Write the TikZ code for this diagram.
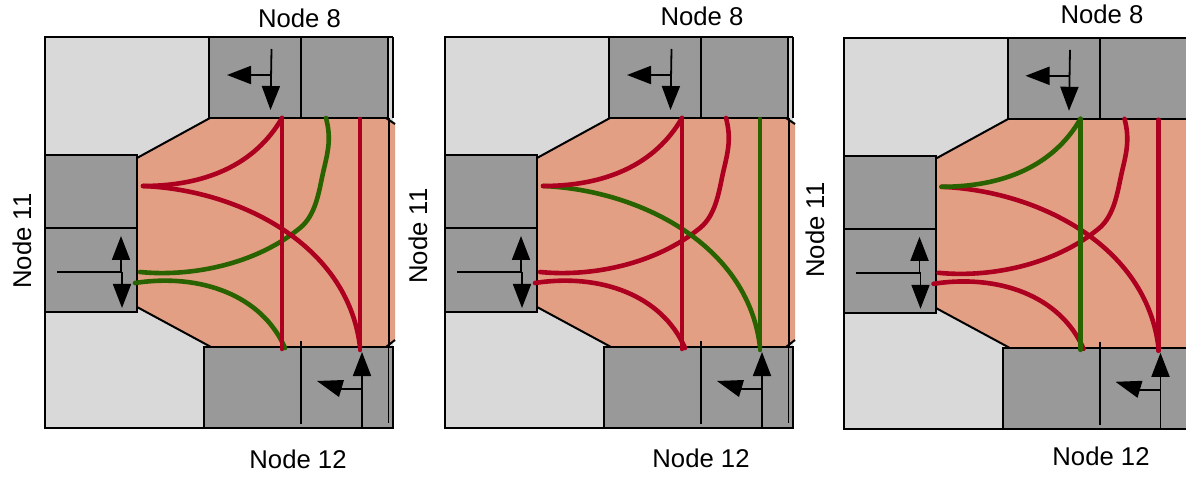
\documentclass[tikz,border=0pt]{standalone}
\usepackage{fontspec}
\setmainfont{Liberation Sans}
\usetikzlibrary{arrows.meta}
\definecolor{salmon}{HTML}{E39F84}
\definecolor{cellgray}{HTML}{999999}
\definecolor{yardgray}{HTML}{D9D9D9}
\definecolor{lanered}{HTML}{AD0020}
\definecolor{lanegreen}{HTML}{286300}
\tikzset{
  edge/.style={draw=black,line width=2pt,line join=miter},
  cell/.style={edge,fill=cellgray},
  lane/.style={line width=4.6pt,line cap=round},
  flow/.style={line width=1.8pt,-{Triangle[length=24pt,width=18pt]}},
  stem/.style={line width=1.8pt},
  lbl/.style={font=\fontsize{25.7}{30}\selectfont,inner sep=0pt},
}
% #1 x shift, #2 y shift, #3 colour of curve A, #4 B, #5 V1, #6 V2, #7 C, #8 D, #9 show right edge lines (1/0)
\newcommand{\junctionpanel}[9]{%
\begin{scope}[shift={(#1,#2)}]
  \path[fill=yardgray] (45,37) rectangle (393,428);
  \draw[edge] (393,37) -- (45,37) -- (45,428) -- (393,428);
  \fill[salmon] (137,158) -- (210,118) -- (386,118) -- (395,124) -- (395,340) -- (386,347) -- (211,347) -- (137,307) -- cycle;
  \draw[edge] (137,158) -- (210,118);
  \draw[edge] (137,307) -- (211,347);
  \draw[cell] (209,37) rectangle (301,118);
  \draw[cell] (301,37) rectangle (388,118);
  \draw[cell] (45,155) rectangle (137,228);
  \draw[cell] (45,228) rectangle (137,312);
  \draw[cell] (204,347) rectangle (393,428);
  \ifnum#9=1
    \draw[edge] (393,37) -- (393,118);
    \draw[edge] (389,118) -- (389,347);
    \draw[edge] (386,118) -- (395,124);
    \draw[edge] (386,347) -- (395,340);
    \draw[stem] (388.5,347) -- (388.5,423);
  \fi
  \draw[edge] (301,341) -- (301,424);
  % lanes
  \draw[lane,#7] (140,272) .. controls (190,277) and (255,265) .. (300,228) .. controls (316,215) and (319,191) .. (323,173) .. controls (327,155) and (332,140) .. (326,118);
  \draw[lane,#8] (135,283) .. controls (200,273) and (262,295) .. (285,348);
  \draw[lane,#4] (143,186) .. controls (240,190) and (348,245) .. (360,347);
  \draw[lane,#6] (360,119) -- (360,350);
  \draw[lane,#5] (282,118) -- (282,349);
  \draw[lane,#3] (143,186) .. controls (205,186) and (255,165) .. (282,118);
  % arrows
  \draw[flow] (271.5,49) -- (270.5,110);
  \draw[flow] (271,75) -- (227,75);
  \draw[stem] (57,272) -- (122,272);
  \draw[flow] (121,272) -- (121,236);
  \draw[flow] (122,272) -- (122,308);
  \draw[flow] (362,428) -- (362,352);
  \draw[stem] (362,389) -- (340,389);
  \fill (317,381) -- (344,380) -- (339,397) -- cycle;
\end{scope}}
\begin{document}
\begin{tikzpicture}[x=1pt,y=-1pt]
  \useasboundingbox (0,0) rectangle (1186,478);
  \clip (0,0) rectangle (1186,478);
  \junctionpanel{0}{0}{lanered}{lanered}{lanered}{lanered}{lanegreen}{lanegreen}{1}
  \junctionpanel{400}{0}{lanered}{lanegreen}{lanered}{lanegreen}{lanered}{lanered}{1}
  \junctionpanel{798.5}{0.8}{lanegreen}{lanered}{lanegreen}{lanered}{lanered}{lanered}{0}
  \node[lbl] (top1) at (299.5,18) {Node 8};
  \node[lbl,rotate=90] (left1) at (22,241) {Node 11};
  \node[lbl] (bot1) at (298,459) {Node 12};
  \node[lbl] (top2) at (702,16) {Node 8};
  \node[lbl,rotate=90] (left2) at (418,236) {Node 11};
  \node[lbl] (bot2) at (701,458) {Node 12};
  \node[lbl] (top3) at (1102,14) {Node 8};
  \node[lbl,rotate=90] (left3) at (815,230) {Node 11};
  \node[lbl] (bot3) at (1101,456) {Node 12};
\end{tikzpicture}
\end{document}
